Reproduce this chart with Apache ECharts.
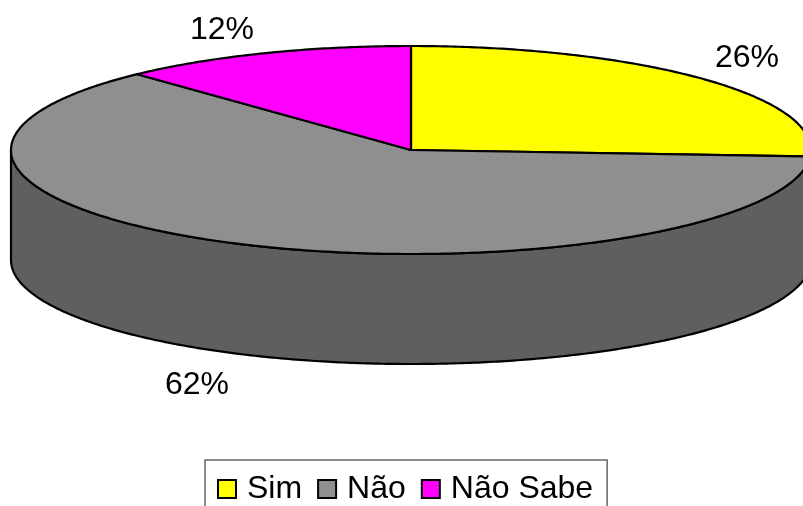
<!DOCTYPE html>
<html>
<head>
<meta charset="utf-8">
<style>html,body{margin:0;padding:0;background:#fff}#c{width:803px;height:506px}</style>
<script src="https://cdn.jsdelivr.net/npm/echarts@6/dist/echarts.min.js"></script>
</head>
<body>
<div id="c"></div>
<script>
const categories = ['Sim', 'Não', 'Não Sabe'];
const percentValues = [26, 62, 12];
const topColors = ['#ffff00', '#8f8f8f', '#ff00ff'];
const wallColors = ['#808000', '#5f5f5f', '#800080'];
const labelAnchors = [[747, 58], [197, 385], [222, 30]];

const cx = 411, cy = 150, rx = 400, ry = 104, depth = 110;
const FONT = '"Liberation Sans", Arial, sans-serif';
const total = percentValues.reduce((a, b) => a + b, 0);
const starts = percentValues.map((_, i) =>
  percentValues.slice(0, i).reduce((a, b) => a + b, 0) / total * Math.PI * 2);

function pt(a, dy) {
  return [cx + rx * Math.sin(a), cy - ry * Math.cos(a) + (dy || 0)];
}
function arc(a0, a1, dy) {
  const n = Math.max(2, Math.ceil(Math.abs(a1 - a0) / 0.01));
  const out = [];
  for (let k = 0; k <= n; k++) out.push(pt(a0 + (a1 - a0) * k / n, dy));
  return out;
}

function renderSlice(params) {
  const i = params.seriesIndex;
  const a0 = starts[i];
  const a1 = a0 + percentValues[i] / total * Math.PI * 2;
  const children = [];
  // visible outer wall: the part of the slice on the front half of the ellipse
  const w0 = Math.max(a0, Math.PI / 2), w1 = Math.min(a1, Math.PI * 1.5);
  if (w1 > w0) {
    children.push({
      type: 'polygon',
      shape: { points: arc(w0, w1, 0).concat(arc(w1, w0, depth)) },
      style: { fill: wallColors[i], stroke: '#000', lineWidth: 2.2, lineJoin: 'round' }
    });
  }
  children.push({
    type: 'polygon',
    shape: { points: [[cx, cy]].concat(arc(a0, a1, 0)) },
    style: { fill: topColors[i], stroke: '#000', lineWidth: 2.2, lineJoin: 'round' }
  });
  children.push({
    type: 'text',
    style: {
      x: labelAnchors[i][0], y: labelAnchors[i][1],
      text: percentValues[i] + '%',
      align: 'center', verticalAlign: 'middle',
      font: '32px ' + FONT, fill: '#000'
    }
  });
  return { type: 'group', children };
}

const chart = echarts.init(document.getElementById('c'), null, { renderer: 'canvas' });
chart.setOption({
  animation: false,
  backgroundColor: '#fff',
  legend: {
    left: 205, top: 460,
    orient: 'horizontal',
    padding: [13, 14, 30, 12],
    itemGap: 15, itemWidth: 18, itemHeight: 18,
    selectedMode: false,
    borderColor: '#666', borderWidth: 1.5,
    textStyle: { fontFamily: FONT, fontSize: 32, color: '#000', padding: [0, 0, 0, 6] },
    data: categories.map((name, i) => ({
      name, icon: 'rect',
      itemStyle: { color: topColors[i], borderColor: '#000', borderWidth: 2 }
    }))
  },
  series: categories.map((name, i) => ({
    type: 'custom',
    name,
    coordinateSystem: 'none',
    silent: true,
    itemStyle: { color: topColors[i] },
    data: [[percentValues[i]]],
    renderItem: renderSlice
  }))
});
</script>
</body>
</html>
